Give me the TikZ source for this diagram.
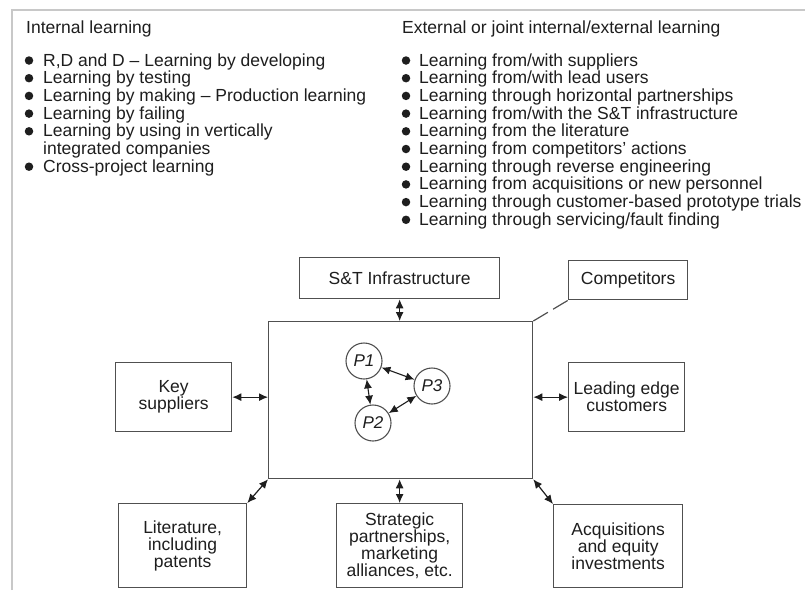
\documentclass[tikz,border=0pt]{standalone}
\usepackage{fontspec}
\setmainfont{Liberation Sans}
\usetikzlibrary{arrows.meta}
\definecolor{ink}{HTML}{1E1E1E}
\definecolor{frame}{HTML}{C8C8C8}
\definecolor{boxline}{HTML}{505050}
\begin{document}
\begin{tikzpicture}[x=1pt,y=-1pt,
  txt/.style={inner sep=0pt, anchor=base west, font=\fontsize{17.5}{17.7}\selectfont, text=ink},
  dot/.style={circle, fill=ink, inner sep=0pt, minimum size=8.5pt},
  box/.style={draw=boxline, line width=1.3pt, align=center, inner sep=0pt, anchor=north west, text=ink,
    font=\fontsize{17.5}{17}\selectfont},
  pc/.style={draw=boxline, circle, line width=1.1pt, minimum size=36pt, inner sep=0pt, text=ink,
    font=\fontsize{17}{17}\selectfont\itshape},
  dbl/.style={{Latex[length=9pt,width=8pt]}-{Latex[length=9pt,width=8pt]}, line width=1.2pt, draw=ink}
]
\useasboundingbox[fill=white] (0,0) rectangle (805,590);
% frame
\draw[frame, line width=1.5pt] (12,590) -- (12,10) -- (805,10);

% headings
\node[txt] (hl) at (26,33) {Internal learning};
\node[txt] (hr) at (402,33) {External or joint internal/external learning};

% left list
\node[dot] (bl1) at (29,60.5) {};   \node[txt] (l1) at (43,66)    {R,D and D – Learning by developing};
\node[dot] (bl2) at (29,78.2) {};   \node[txt] (l2) at (43,83.7)  {Learning by testing};
\node[dot] (bl3) at (29,95.9) {};   \node[txt] (l3) at (43,101.4) {Learning by making – Production learning};
\node[dot] (bl4) at (29,113.6) {};  \node[txt] (l4) at (43,119.1) {Learning by failing};
\node[dot] (bl5) at (29,131.3) {};  \node[txt] (l5) at (43,136.8) {Learning by using in vertically};
                                    \node[txt] (l6) at (43,154.5) {integrated companies};
\node[dot] (bl7) at (29,166.7) {};  \node[txt] (l7) at (43,172.2) {Cross-project learning};

% right list
\node[dot] (br1) at (406,60.5) {};  \node[txt] (r1) at (419,66)    {Learning from/with suppliers};
\node[dot] (br2) at (406,78.2) {};  \node[txt] (r2) at (419,83.7)  {Learning from/with lead users};
\node[dot] (br3) at (406,95.9) {};  \node[txt] (r3) at (419,101.4) {Learning through horizontal partnerships};
\node[dot] (br4) at (406,113.6) {}; \node[txt] (r4) at (419,119.1) {Learning from/with the S\&T infrastructure};
\node[dot] (br5) at (406,131.3) {}; \node[txt] (r5) at (419,136.8) {Learning from the literature};
\node[dot] (br6) at (406,149.0) {}; \node[txt] (r6) at (419,154.5) {Learning from competitors' actions};
\node[dot] (br7) at (406,166.7) {}; \node[txt] (r7) at (419,172.2) {Learning through reverse engineering};
\node[dot] (br8) at (406,184.4) {}; \node[txt] (r8) at (419,189.9) {Learning from acquisitions or new personnel};
\node[dot] (br9) at (406,202.1) {}; \node[txt] (r9) at (419,207.6) {Learning through customer-based prototype trials};
\node[dot] (br10) at (406,219.8) {};\node[txt] (r10) at (419,225.3) {Learning through servicing/fault finding};

% boxes
\node[box, minimum width=264pt, minimum height=157pt] (main) at (268,321) {};
\node[box, minimum width=200pt, minimum height=41pt] (st) at (299,257) {S\&T Infrastructure};
\node[box, minimum width=119pt, minimum height=39pt] (comp) at (568,260) {Competitors};
\node[box, minimum width=116pt, minimum height=69pt] (ks) at (115,362) {Key\\suppliers};
\node[box, minimum width=116pt, minimum height=69pt] (lec) at (568,362) {Leading edge\\customers};
\node[box, minimum width=128pt, minimum height=84pt] (lit) at (118,503) {Literature,\\including\\patents};
\node[box, minimum width=126pt, minimum height=84pt] (sp) at (336,503) {Strategic\\partnerships,\\marketing\\alliances, etc.};
\node[box, minimum width=129pt, minimum height=83pt] (acq) at (553,504) {Acquisitions\\and equity\\investments};

% project circles
\node[pc] (p1) at (364,361) {P1};
\node[pc] (p2) at (373,423) {P2};
\node[pc] (p3) at (432,386) {P3};

% connectors
\draw[dbl] (st.south) -- (st.south |- main.north);
\draw[dbl] (ks.east) -- (ks.east -| main.west);
\draw[dbl] (lec.west) -- (lec.west -| main.east);
\draw[dbl] (lit.north east) -- (main.south west);
\draw[dbl] (sp.north) -- (sp.north |- main.south);
\draw[dbl] (acq.north west) -- (main.south east);
\draw[boxline, line width=1.2pt, dash pattern=on 17pt off 6pt] (main.north east) -- (comp.south west);
\draw[dbl, line width=1.1pt] (p1) -- (p3);
\draw[dbl, line width=1.1pt] (p1) -- (p2);
\draw[dbl, line width=1.1pt] (p2) -- (p3);
\end{tikzpicture}
\end{document}
